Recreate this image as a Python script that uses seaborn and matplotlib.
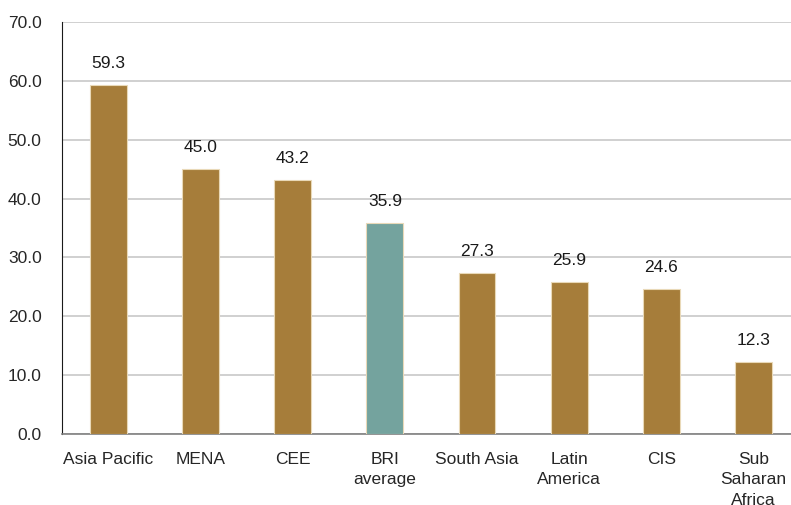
import matplotlib
matplotlib.use("Agg")
import pandas as pd
import matplotlib.pyplot as plt
import seaborn as sns
from matplotlib.ticker import FixedLocator

# chart data
regions = ["Asia Pacific", "MENA", "CEE", "BRI\naverage", "South Asia",
           "Latin\nAmerica", "CIS", "Sub\nSaharan\nAfrica"]
values = [59.3, 45.0, 43.2, 35.9, 27.3, 25.9, 24.6, 12.3]
bar_colors = ["#A67D3A", "#A67D3A", "#A67D3A", "#74A39E", "#A67D3A",
              "#A67D3A", "#A67D3A", "#A67D3A"]

df = pd.DataFrame({"region": regions, "value": values})

sns.set_style("white")
plt.rcParams["font.family"] = ["Liberation Sans", "DejaVu Sans"]

fig = plt.figure(figsize=(7.91, 5.05), dpi=100)
ax = fig.add_axes([0.079, 0.1406, 0.9317, 0.8158])

sns.barplot(data=df, x="region", y="value", hue="region", palette=bar_colors,
            width=0.4, legend=False, ax=ax, edgecolor="#E9D9B8", linewidth=0.8,
            saturation=1, zorder=3)

for i, v in enumerate(values):
    ax.annotate(f"{v:.1f}", (i, v), xytext=(0, 10), textcoords="offset points",
                ha="center", va="bottom", fontsize=12.5, color="#1a1a1a")

ax.set_xlim(-0.5, len(regions) - 0.5)
ax.set_ylim(0, 70)
ax.set_yticks(range(0, 71, 10))
ax.set_yticklabels([f"{t:.1f}" for t in range(0, 71, 10)], fontsize=12.5)
ax.yaxis.grid(True, color="#C4C4C4", linewidth=1.1, zorder=0)
ax.set_axisbelow(True)

ax.set_xlabel("")
ax.set_ylabel("")
ax.tick_params(axis="x", which="major", length=0, labelsize=12.5, pad=13)
ax.xaxis.set_minor_locator(FixedLocator([i + 0.5 for i in range(len(regions))]))
ax.tick_params(axis="x", which="minor", length=5, color="#595959", width=1)
ax.tick_params(axis="y", length=5, color="#1a1a1a", width=1, pad=10)
for lbl in ax.get_xticklabels():
    lbl.set_va("top")
    lbl.set_linespacing(1.45)

for side in ["top", "right"]:
    ax.spines[side].set_visible(False)
ax.spines["left"].set_color("#1a1a1a")
ax.spines["bottom"].set_color("#808080")
ax.spines["bottom"].set_linewidth(1.2)

plt.savefig("out.png", dpi=100)
